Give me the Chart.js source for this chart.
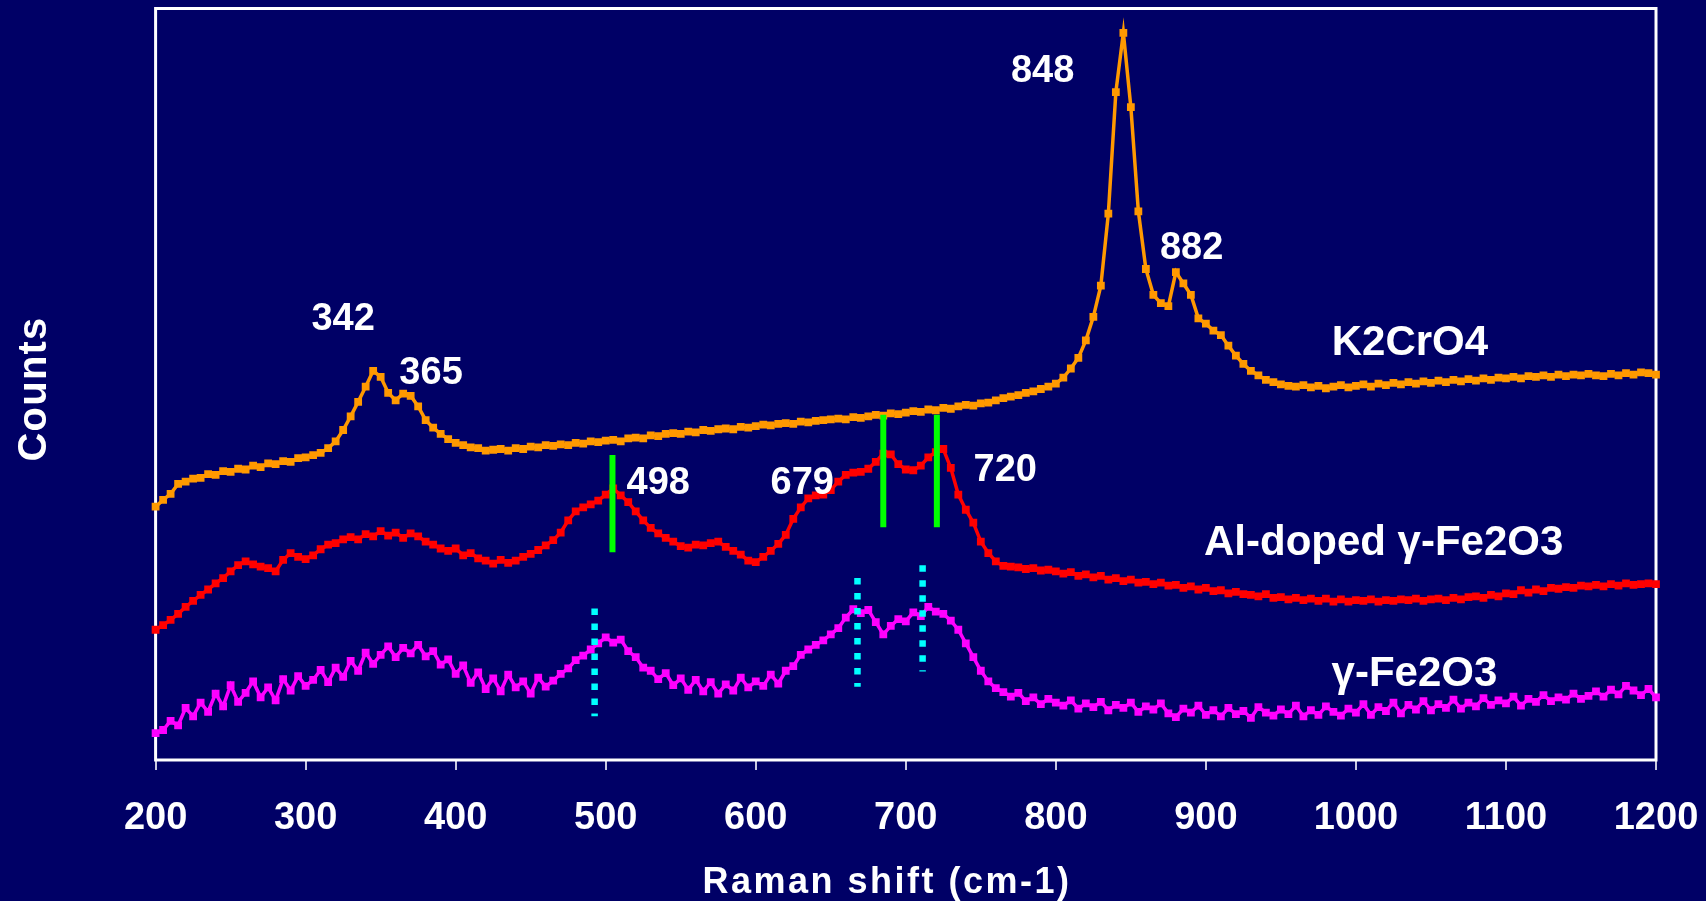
<!DOCTYPE html>
<html>
<head>
<meta charset="utf-8">
<title>Raman spectra</title>
<script src="https://cdn.jsdelivr.net/npm/chart.js@4.4.0/dist/chart.umd.min.js"></script>
<style>
  html, body { margin: 0; padding: 0; background: #000066; }
  canvas { display: block; }
</style>
</head>
<body>
<canvas id="chart" width="1706" height="901"></canvas>
<script>
// wavenumber grid (cm-1), 5 cm-1 step
const ramanShift = [
  200, 205, 210, 215, 220, 225, 230, 235, 240, 245, 250, 255, 260, 265, 270, 275, 280, 285, 290, 295,
  300, 305, 310, 315, 320, 325, 330, 335, 340, 345, 350, 355, 360, 365, 370, 375, 380, 385, 390, 395,
  400, 405, 410, 415, 420, 425, 430, 435, 440, 445, 450, 455, 460, 465, 470, 475, 480, 485, 490, 495,
  500, 505, 510, 515, 520, 525, 530, 535, 540, 545, 550, 555, 560, 565, 570, 575, 580, 585, 590, 595,
  600, 605, 610, 615, 620, 625, 630, 635, 640, 645, 650, 655, 660, 665, 670, 675, 680, 685, 690, 695,
  700, 705, 710, 715, 720, 725, 730, 735, 740, 745, 750, 755, 760, 765, 770, 775, 780, 785, 790, 795,
  800, 805, 810, 815, 820, 825, 830, 835, 840, 845, 850, 855, 860, 865, 870, 875, 880, 885, 890, 895,
  900, 905, 910, 915, 920, 925, 930, 935, 940, 945, 950, 955, 960, 965, 970, 975, 980, 985, 990, 995,
  1000, 1005, 1010, 1015, 1020, 1025, 1030, 1035, 1040, 1045, 1050, 1055, 1060, 1065, 1070, 1075, 1080, 1085, 1090, 1095,
  1100, 1105, 1110, 1115, 1120, 1125, 1130, 1135, 1140, 1145, 1150, 1155, 1160, 1165, 1170, 1175, 1180, 1185, 1190, 1195,
  1200
];

// counts (arbitrary units, spectra stacked with offsets)
const k2cro4 = [
  34.4, 35.3, 36.1, 37.4, 37.7, 38.1, 38.2, 38.7, 38.6, 39.1, 39.0, 39.4, 39.3, 39.8, 39.6, 40.1, 40.0, 40.4, 40.3, 40.8,
  40.9, 41.2, 41.5, 42.1, 43.0, 44.5, 46.3, 48.2, 50.2, 52.3, 51.5, 49.4, 48.4, 49.3, 49.0, 47.6, 45.8, 44.8, 44.0, 43.3,
  42.8, 42.5, 42.2, 42.1, 41.8, 41.9, 42.0, 41.8, 42.1, 42.0, 42.3, 42.2, 42.5, 42.4, 42.6, 42.5, 42.8, 42.7, 43.0, 42.9,
  43.1, 43.2, 43.0, 43.4, 43.5, 43.4, 43.8, 43.7, 44.0, 44.1, 44.0, 44.3, 44.2, 44.5, 44.4, 44.6, 44.7, 44.6, 44.9, 44.8,
  45.0, 45.2, 45.1, 45.3, 45.4, 45.3, 45.6, 45.5, 45.7, 45.8, 45.9, 46.0, 45.9, 46.2, 46.1, 46.3, 46.5, 46.4, 46.7, 46.6,
  46.8, 47.0, 46.9, 47.2, 47.1, 47.4, 47.3, 47.6, 47.8, 47.7, 48.0, 48.1, 48.4, 48.7, 48.9, 49.1, 49.4, 49.6, 49.9, 50.2,
  50.6, 51.4, 52.6, 54.0, 56.3, 59.4, 63.5, 73.0, 89.0, 96.8, 87.0, 73.3, 65.7, 62.3, 61.2, 60.8, 65.3, 63.8, 62.3, 59.2,
  58.5, 57.6, 57.0, 55.6, 54.3, 53.2, 52.3, 51.7, 51.1, 50.8, 50.5, 50.3, 50.2, 50.4, 50.1, 50.3, 50.0, 50.2, 50.4, 50.1,
  50.3, 50.5, 50.2, 50.6, 50.4, 50.7, 50.5, 50.8, 50.6, 50.9, 50.7, 51.0, 50.8, 51.1, 50.9, 51.2, 51.0, 51.3, 51.1, 51.4,
  51.3, 51.5, 51.3, 51.6, 51.5, 51.7, 51.5, 51.8, 51.6, 51.8, 51.7, 51.9, 51.7, 51.6, 51.9, 51.7, 52.0, 51.8, 52.1, 52.0,
  51.8
];

const alDoped = [
  18.2, 18.8, 19.5, 20.3, 21.2, 22.0, 22.8, 23.5, 24.3, 25.0, 25.9, 26.7, 27.2, 26.8, 26.5, 26.3, 25.9, 27.4, 28.3, 27.8,
  27.5, 28.0, 28.8, 29.4, 29.6, 30.1, 30.4, 30.1, 30.8, 30.5, 31.2, 30.6, 31.0, 30.3, 30.9, 30.5, 29.8, 29.4, 28.9, 28.6,
  28.9, 28.0, 28.3, 27.6, 27.3, 26.9, 27.4, 27.0, 27.3, 27.8, 28.2, 28.7, 29.3, 30.0, 31.0, 32.6, 33.8, 34.3, 34.7, 35.2,
  36.0, 36.8, 35.9, 35.0, 33.8, 32.6, 31.6, 30.9, 30.3, 29.8, 29.2, 29.0, 29.4, 29.3, 29.6, 29.8, 29.1, 28.6, 28.1, 27.3,
  27.1, 27.8, 28.6, 29.5, 30.7, 32.8, 34.3, 35.5, 35.9, 36.0, 36.6, 37.7, 38.6, 38.9, 39.0, 39.4, 40.3, 41.4, 41.3, 40.0,
  39.3, 39.2, 39.8, 40.9, 41.6, 42.0, 39.5, 36.0, 34.0, 32.3, 29.8, 28.3, 27.2, 26.6, 26.5, 26.4, 26.2, 26.3, 26.0, 26.1,
  25.9, 25.6, 25.8, 25.3, 25.5, 25.1, 25.3, 24.8, 25.0, 24.6, 24.8, 24.4, 24.5, 24.2, 24.4, 24.0, 24.1, 23.7, 23.9, 23.5,
  23.7, 23.3, 23.4, 23.0, 23.2, 22.9, 22.8, 22.6, 22.9, 22.4, 22.5, 22.2, 22.4, 22.1, 22.3, 22.0, 22.3, 21.9, 22.2, 21.9,
  22.1, 22.0, 22.2, 21.9, 22.1, 22.0, 22.2, 22.1, 22.3, 22.0, 22.2, 22.3, 22.1, 22.4, 22.2, 22.5, 22.6, 22.4, 22.8, 22.6,
  23.0, 22.9, 23.4, 23.1, 23.5, 23.3, 23.7, 23.6, 23.8, 23.7, 24.0, 23.9, 24.1, 23.9, 24.2, 24.0, 24.3, 24.1, 24.2, 24.3,
  24.2
];

const gammaFe2O3 = [
  4.6, 5.0, 6.2, 5.6, 7.9, 6.8, 8.6, 7.4, 9.8, 8.1, 10.9, 8.7, 9.9, 11.4, 9.3, 10.6, 8.9, 11.7, 10.2, 12.1,
  10.8, 11.6, 12.9, 11.3, 13.2, 12.0, 14.1, 12.8, 15.2, 13.7, 14.9, 16.0, 14.6, 15.8, 15.1, 16.2, 14.7, 15.4, 13.6, 14.3,
  12.4, 13.5, 11.2, 12.6, 10.4, 11.8, 10.1, 12.3, 10.6, 11.4, 9.8, 11.9, 10.7, 11.5, 12.4, 13.1, 14.2, 14.8, 15.6, 16.4,
  17.2, 16.5, 16.9, 15.4, 14.6, 13.2, 12.8, 11.7, 12.5, 10.9, 11.8, 10.3, 11.6, 10.1, 11.3, 9.8, 11.0, 10.2, 11.9, 10.6,
  11.4, 10.8, 12.3, 11.1, 12.8, 13.4, 14.9, 15.6, 16.2, 16.8, 17.6, 18.4, 19.8, 20.9, 20.4, 20.8, 19.2, 17.6, 18.7, 19.6,
  19.3, 20.5, 20.0, 21.2, 20.6, 20.3, 19.4, 18.2, 16.4, 14.6, 12.8, 11.4, 10.5, 10.0, 9.4, 9.9, 8.8, 9.3, 8.4, 9.1,
  8.6, 8.2, 8.9, 7.8, 8.5, 8.0, 8.7, 7.6, 8.3, 7.9, 8.6, 7.4, 8.1, 7.7, 8.5, 7.2, 6.7, 7.8, 7.3, 8.2,
  7.0, 7.6, 6.8, 7.9, 7.1, 7.5, 6.6, 8.0, 7.3, 6.9, 7.7, 7.1, 8.2, 6.8, 7.6, 7.0, 8.1, 7.4, 6.9, 7.8,
  7.3, 8.4, 7.0, 8.0, 7.5, 8.6, 7.2, 8.3, 7.7, 8.8, 7.6, 8.4, 7.9, 9.0, 7.8, 8.6, 8.1, 9.2, 8.3, 8.9,
  8.5, 9.4, 8.2, 9.1, 8.7, 9.6, 8.8, 9.3, 9.0, 9.8, 9.1, 9.5, 10.1, 9.4, 10.3, 9.7, 10.8, 10.2, 9.6, 10.4,
  9.3
];

// peak labels (cm-1 position, counts level of the text centre)
const peakLabels = ['342', '365', '848', '882', '498', '679', '720'];
const peakLabelShift = [325, 383.6, 791.2, 890.5, 535, 631, 766.3];
const peakLabelCounts = [59.4, 52.3, 92.1, 68.8, 37.9, 37.9, 39.6];

const seriesNames = ['K2CrO4', 'Al-doped γ-Fe2O3', 'γ-Fe2O3'];
const seriesNameShift = [1036, 1018.5, 1039];
const seriesNameCounts = [56.4, 30.0, 12.8];

// marker lines: solid green on Al-doped, dotted cyan on γ-Fe2O3
const greenShifts = [504.5, 685, 720.7];
const greenRanges = [[41.2, 28.4], [46.5, 31.7], [46.5, 31.7]];
const cyanShifts = [492.6, 667.8, 711.2];
const cyanRanges = [[21.0, 6.8], [25.0, 10.7], [26.7, 12.7]];

const FONT = "'Liberation Sans', Arial, sans-serif";

function spectrum(label, data, color) {
  return {
    label: label,
    data: data,
    borderColor: color,
    backgroundColor: color,
    borderWidth: 3.5,
    pointStyle: 'rect',
    pointRadius: 5.5,
    pointBorderWidth: 0,
    tension: 0,
    clip: 6,
    order: 2
  };
}

function markerLine(shift, range, color, dash) {
  return {
    data: [{ x: shift, y: range[0] }, { x: shift, y: range[1] }],
    borderColor: color,
    borderWidth: dash ? 6.5 : 6,
    borderDash: dash || [],
    borderCapStyle: 'butt',
    pointRadius: 0,
    order: 0
  };
}

const datasets = [
  spectrum('K2CrO4', k2cro4, '#ff9900'),
  spectrum('Al-doped γ-Fe2O3', alDoped, '#ff0000'),
  spectrum('γ-Fe2O3', gammaFe2O3, '#ff00ff')
];
greenShifts.forEach((s, i) => datasets.push(markerLine(s, greenRanges[i], '#00ff00')));
cyanShifts.forEach((s, i) => datasets.push(markerLine(s, cyanRanges[i], '#00ffff', [6.5, 8.5])));

function textAtCapCentre(ctx, text, x, y, size, spacing) {
  ctx.font = 'bold ' + size + 'px ' + FONT;
  ctx.letterSpacing = (spacing || 0) + 'px';
  ctx.fillText(text, x, y + 0.358 * size);
}

const decor = {
  id: 'decor',
  beforeDatasetsDraw(chart) {
    const { ctx, chartArea: a } = chart;
    ctx.save();
    ctx.strokeStyle = '#ffffff';
    ctx.lineWidth = 3;
    ctx.strokeRect(a.left, a.top, a.right - a.left, a.bottom - a.top);
    ctx.restore();
  },
  afterDatasetsDraw(chart) {
    const { ctx } = chart;
    const xs = chart.scales.x, ys = chart.scales.y;
    ctx.save();
    ctx.fillStyle = '#ffffff';
    ctx.textAlign = 'center';
    ctx.textBaseline = 'alphabetic';
    peakLabels.forEach((t, i) => {
      textAtCapCentre(ctx, t, xs.getPixelForValue(peakLabelShift[i]), ys.getPixelForValue(peakLabelCounts[i]), 38, 0);
    });
    seriesNames.forEach((t, i) => {
      textAtCapCentre(ctx, t, xs.getPixelForValue(seriesNameShift[i]), ys.getPixelForValue(seriesNameCounts[i]), 42, 0);
    });
    // axis titles
    textAtCapCentre(ctx, 'Raman shift (cm-1)', 887, 880, 36, 2.5);
    ctx.translate(32, 389);
    ctx.rotate(-Math.PI / 2);
    textAtCapCentre(ctx, 'Counts', 0, 0, 40, 1.2);
    ctx.restore();
  }
};

new Chart(document.getElementById('chart'), {
  type: 'line',
  data: { labels: ramanShift, datasets: datasets },
  plugins: [decor],
  options: {
    responsive: false,
    animation: false,
    devicePixelRatio: 1,
    layout: { padding: { left: 155.6, right: 50, top: 8.5, bottom: 0 } },
    plugins: { legend: { display: false }, tooltip: { enabled: false } },
    scales: {
      x: {
        type: 'linear',
        min: 200,
        max: 1200,
        ticks: {
          stepSize: 100,
          color: '#ffffff',
          font: { family: FONT, size: 38, weight: 'bold' },
          padding: 26,
          maxRotation: 0,
          callback: (v) => String(v)
        },
        grid: {
          drawOnChartArea: false,
          drawTicks: true,
          tickLength: 10,
          color: '#c8c8e0',
          lineWidth: 2
        },
        border: { display: false },
        afterFit: (s) => {
          s.height = 141;
          s.paddingLeft = 0;
          s.paddingRight = 0;
        }
      },
      y: { display: false, min: 1.05, max: 100 }
    }
  }
});
</script>
</body>
</html>
